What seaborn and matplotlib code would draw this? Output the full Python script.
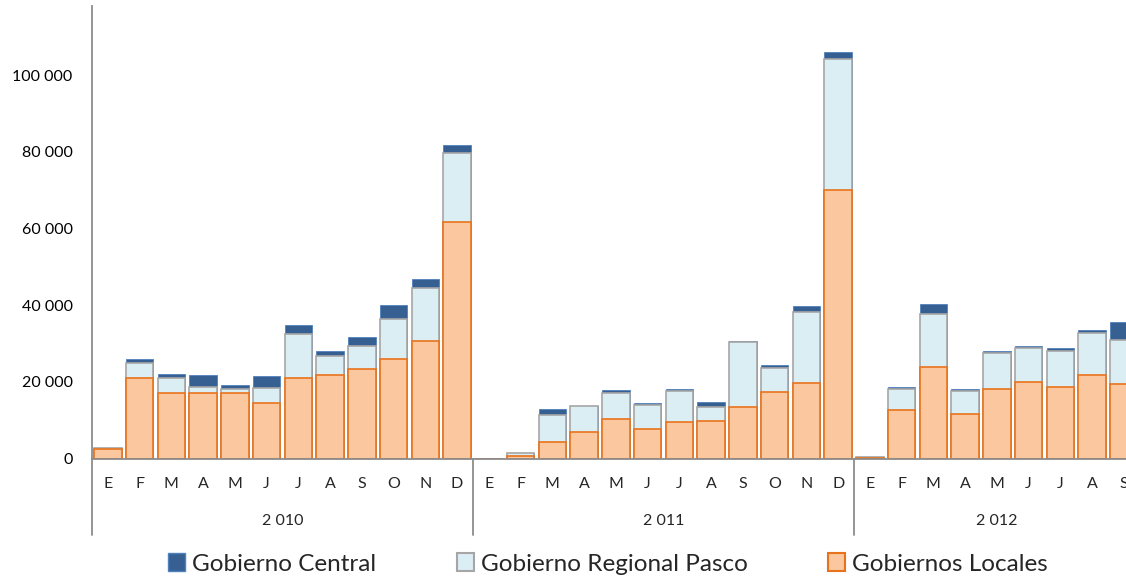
import matplotlib
matplotlib.use('Agg')
import matplotlib.pyplot as plt
import matplotlib.patches as mpatches
import seaborn as sns
import pandas as pd

# =============================================================================
# 1. DATOS
# =============================================================================
meses = ['E', 'F', 'M', 'A', 'M', 'J', 'J', 'A', 'S', 'O', 'N', 'D'] * 2 + \
        ['E', 'F', 'M', 'A', 'M', 'J', 'J', 'A', 'S']
anios = ['2 010', '2 011', '2 012']

gob_locales = [2400, 21000, 17000, 17200, 17000, 14500, 21100, 21800, 23400, 26000, 30600, 61600,
               0, 700, 4400, 7000, 10300, 7700, 9600, 9900, 13400, 17400, 19800, 70000,
               100, 12600, 23800, 11600, 18200, 19900, 18600, 21800, 19500]
gob_regional = [400, 4000, 4000, 1500, 1100, 4000, 11400, 4800, 6000, 10400, 13900, 18100,
                0, 800, 7000, 6600, 6900, 6200, 8100, 3500, 16900, 6300, 18400, 34100,
                200, 5500, 13800, 6100, 9300, 9000, 9400, 10900, 11300]
gob_central = [0, 1000, 1100, 3100, 1100, 2900, 2250, 1400, 2200, 3600, 2400, 2000,
               0, 0, 1500, 0, 700, 500, 500, 1400, 400, 600, 1600, 2000,
               0, 450, 2700, 500, 600, 400, 850, 800, 4900]

df = pd.DataFrame({
    'pos': range(len(meses)),
    'locales': gob_locales,
    'regional': gob_regional,
    'central': gob_central,
})
df['loc_reg'] = df['locales'] + df['regional']
df['total'] = df['loc_reg'] + df['central']

# =============================================================================
# 2. GRÁFICO
# =============================================================================
sns.set_theme(style='white')
plt.rcParams['font.family'] = ['Lato', 'DejaVu Sans']

c_central = '#376092'
c_regional = '#DBEEF4'
c_locales = '#FAC79E'

fig = plt.figure(figsize=(11.26, 5.77), dpi=100)
ax = fig.add_axes([92 / 1126, (577 - 458.5) / 577, 1047.75 / 1126, 452.5 / 577])

# barras apiladas: se dibuja el total y encima los acumulados menores
sns.barplot(data=df, x='pos', y='total', color=c_central, saturation=1, width=0.86,
            edgecolor='#4F81BD', linewidth=0.6, ax=ax)
sns.barplot(data=df, x='pos', y='loc_reg', color=c_regional, saturation=1, width=0.86,
            edgecolor='#A6A6A6', linewidth=1.2, ax=ax)
sns.barplot(data=df, x='pos', y='locales', color=c_locales, saturation=1, width=0.86,
            edgecolor='#E8731C', linewidth=1.2, ax=ax)

ax.set_xlim(-0.5, 32.5)
ax.set_ylim(0, 118000)
ax.set_yticks(range(0, 100001, 20000))
ax.yaxis.set_major_formatter(plt.FuncFormatter(lambda v, p: f'{v:,.0f}'.replace(',', ' ')))
ax.tick_params(axis='y', length=0, labelsize=11.5, colors='black', pad=14)
ax.set_xticks([])
ax.set_xlabel('')
ax.set_ylabel('')

for s in ['top', 'right']:
    ax.spines[s].set_visible(False)
for s in ['left', 'bottom']:
    ax.spines[s].set_color('#8C8C8C')
    ax.spines[s].set_linewidth(1.3)

trans = ax.get_xaxis_transform()
for i, m in enumerate(meses):
    ax.text(i, -0.056, m, transform=trans, ha='center', va='center', fontsize=11.5)

inicios = [0, 12, 24]
fines = [11, 23, 32]
for a, ini, fin in zip(anios, inicios, fines):
    ax.text((ini + fin) / 2, -0.138, a, transform=trans, ha='center', va='center', fontsize=11.5)
for xs in [-0.5, 11.5, 23.5]:
    ax.plot([xs, xs], [0, -0.169], transform=trans, color='#8C8C8C', lw=1.3, clip_on=False)

handles = [
    mpatches.Patch(facecolor=c_central, edgecolor='#4F81BD', label='Gobierno Central'),
    mpatches.Patch(facecolor=c_regional, edgecolor='#A6A6A6', linewidth=1.5, label='Gobierno Regional Pasco'),
    mpatches.Patch(facecolor=c_locales, edgecolor='#E8731C', linewidth=1.5, label='Gobiernos Locales'),
]
fig.legend(handles=handles, loc='center', bbox_to_anchor=(608 / 1126, 1 - 564 / 577), ncol=3,
           frameon=False, fontsize=17.5, handlelength=0.7, handleheight=0.7, handletextpad=0.3,
           columnspacing=3.3, borderaxespad=0)

fig.savefig('out.png', dpi=100)
